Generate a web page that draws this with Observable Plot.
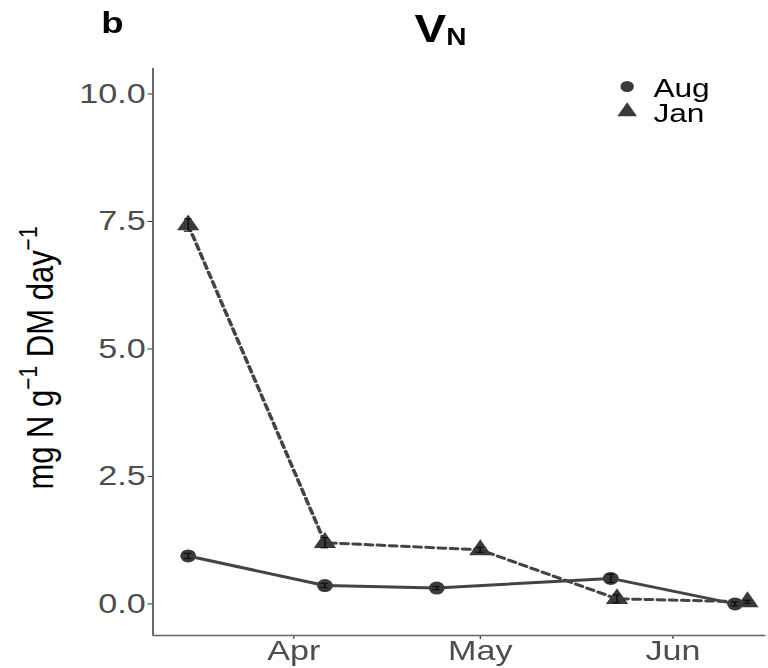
<!DOCTYPE html>
<html>
<head>
<meta charset="utf-8">
<script src="https://cdn.jsdelivr.net/npm/d3@7"></script>
<script src="https://cdn.jsdelivr.net/npm/@observablehq/plot@0.6"></script>
<style>
  html, body { margin: 0; padding: 0; background: #fff; }
  #wrap { width: 630px; height: 668px; transform: scaleX(1.219); transform-origin: 0 0; }
</style>
</head>
<body>
<div id="wrap"></div>
<script>
// ---- data ----
const augDates  = ["2019-03-15", "2019-04-06", "2019-04-24", "2019-05-22", "2019-06-11"];
const augValues = [0.94, 0.36, 0.31, 0.50, 0.00];
const augErr    = [0.05, 0.04, 0.03, 0.08, 0.04];

const janDates  = ["2019-03-15", "2019-04-06", "2019-05-01", "2019-05-23", "2019-06-13"];
const janValues = [7.43, 1.20, 1.06, 0.10, 0.04];
const janErr    = [0.12, 0.10, 0.05, 0.08, 0.03];

const xTickDates = ["2019-04-01", "2019-05-01", "2019-06-01"];
const yTicks = [0, 2.5, 5, 7.5, 10];
const seriesNames = ["Aug", "Jan"];

// ---- build tables ----
const DAY = 864e5;
const aug = augDates.map((d, i) => ({date: new Date(d), value: augValues[i], err: augErr[i], series: "Aug"}));
const jan = janDates.map((d, i) => ({date: new Date(d), value: janValues[i], err: janErr[i], series: "Jan"}));
const all = aug.concat(jan);
const xTicks = xTickDates.map(d => new Date(d));
const xDomain = [new Date("2019-03-09T08:00Z"), new Date("2019-06-16T00:00Z")];
const yDomain = [-0.62, 10.5];

const ink = "#3a3a3a";
const font = "'Liberation Sans', Arial, sans-serif";

const chart = Plot.plot({
  width: 630,
  height: 668,
  marginLeft: 125,
  marginRight: 2,
  marginTop: 68,
  marginBottom: 33,
  style: {fontFamily: font, background: "#fff", overflow: "visible"},
  x: {type: "utc", domain: xDomain},
  y: {domain: yDomain},
  marks: [
    Plot.axisY({ticks: yTicks, tickFormat: d3.format(".1f"), tickSize: 4, tickPadding: 2,
      fontSize: 28, fill: "#4d4d4d", stroke: "#333", label: null}),
    Plot.axisX({ticks: xTicks, tickFormat: d3.utcFormat("%b"), tickSize: 4, tickPadding: 1,
      fontSize: 28, fill: "#4d4d4d", stroke: "#333", label: null}),
    Plot.ruleX([xDomain[0]], {stroke: "#666", strokeWidth: 1.6}),
    Plot.ruleY([yDomain[0]], {stroke: "#666", strokeWidth: 1.6}),
    Plot.line(jan, {x: "date", y: "value", stroke: "#444", strokeWidth: 3, strokeDasharray: "6,4"}),
    Plot.line(aug, {x: "date", y: "value", stroke: "#444", strokeWidth: 3}),
    Plot.dot(aug, {x: "date", y: "value", r: 6.5, symbol: "circle", fill: ink}),
    Plot.dot(jan, {x: "date", y: "value", r: 6.8, symbol: "triangle", fill: ink}),
    // small error bars
    Plot.ruleX(all, {x: "date", y1: d => d.value - d.err, y2: d => d.value + d.err, stroke: "#111", strokeWidth: 1.4}),
    Plot.ruleY(all, {y: d => d.value + d.err, x1: d => new Date(+d.date - 0.6 * DAY), x2: d => new Date(+d.date + 0.6 * DAY), stroke: "#111", strokeWidth: 1.2}),
    Plot.ruleY(all, {y: d => d.value - d.err, x1: d => new Date(+d.date - 0.6 * DAY), x2: d => new Date(+d.date + 0.6 * DAY), stroke: "#111", strokeWidth: 1.2}),
    // legend keys
    Plot.dot([seriesNames[0]], {frameAnchor: "top-left", dx: 389, dy: 18, r: 5.5, symbol: "circle", fill: ink}),
    Plot.dot([seriesNames[1]], {frameAnchor: "top-left", dx: 389, dy: 43, r: 6, symbol: "triangle", fill: ink})
  ]
});

document.getElementById("wrap").appendChild(chart);

const svg = d3.select(chart);
// legend labels
svg.append("text").attr("x", 536).attr("y", 97).attr("text-anchor", "start").attr("font-family", font)
  .attr("font-size", 26).attr("fill", "#000").text(seriesNames[0]);
svg.append("text").attr("x", 536).attr("y", 122).attr("text-anchor", "start").attr("font-family", font)
  .attr("font-size", 26).attr("fill", "#000").text(seriesNames[1]);

// panel tag
svg.append("text").attr("x", 83).attr("y", 33).attr("text-anchor", "start").attr("font-family", font)
  .attr("font-size", 30).attr("font-weight", "bold").attr("fill", "#000").text("b");

// title V_N
const t = svg.append("text").attr("x", 340).attr("y", 42).attr("text-anchor", "start").attr("font-family", font)
  .attr("font-size", 39).attr("font-weight", "bold").attr("fill", "#000");
t.append("tspan").text("V");
t.append("tspan").attr("font-size", 23).attr("dy", 3).text("N");

// y-axis title
const yl = svg.append("text").attr("transform", "translate(43.5,358) rotate(-90)")
  .attr("text-anchor", "middle").attr("font-family", font).attr("font-size", 31).attr("fill", "#000");
yl.append("tspan").text("mg N g");
yl.append("tspan").attr("font-size", 21).attr("dy", -13).text("\u22121");
yl.append("tspan").attr("dy", 13).text(" DM day");
yl.append("tspan").attr("font-size", 21).attr("dy", -13).text("\u22121");
</script>
</body>
</html>
